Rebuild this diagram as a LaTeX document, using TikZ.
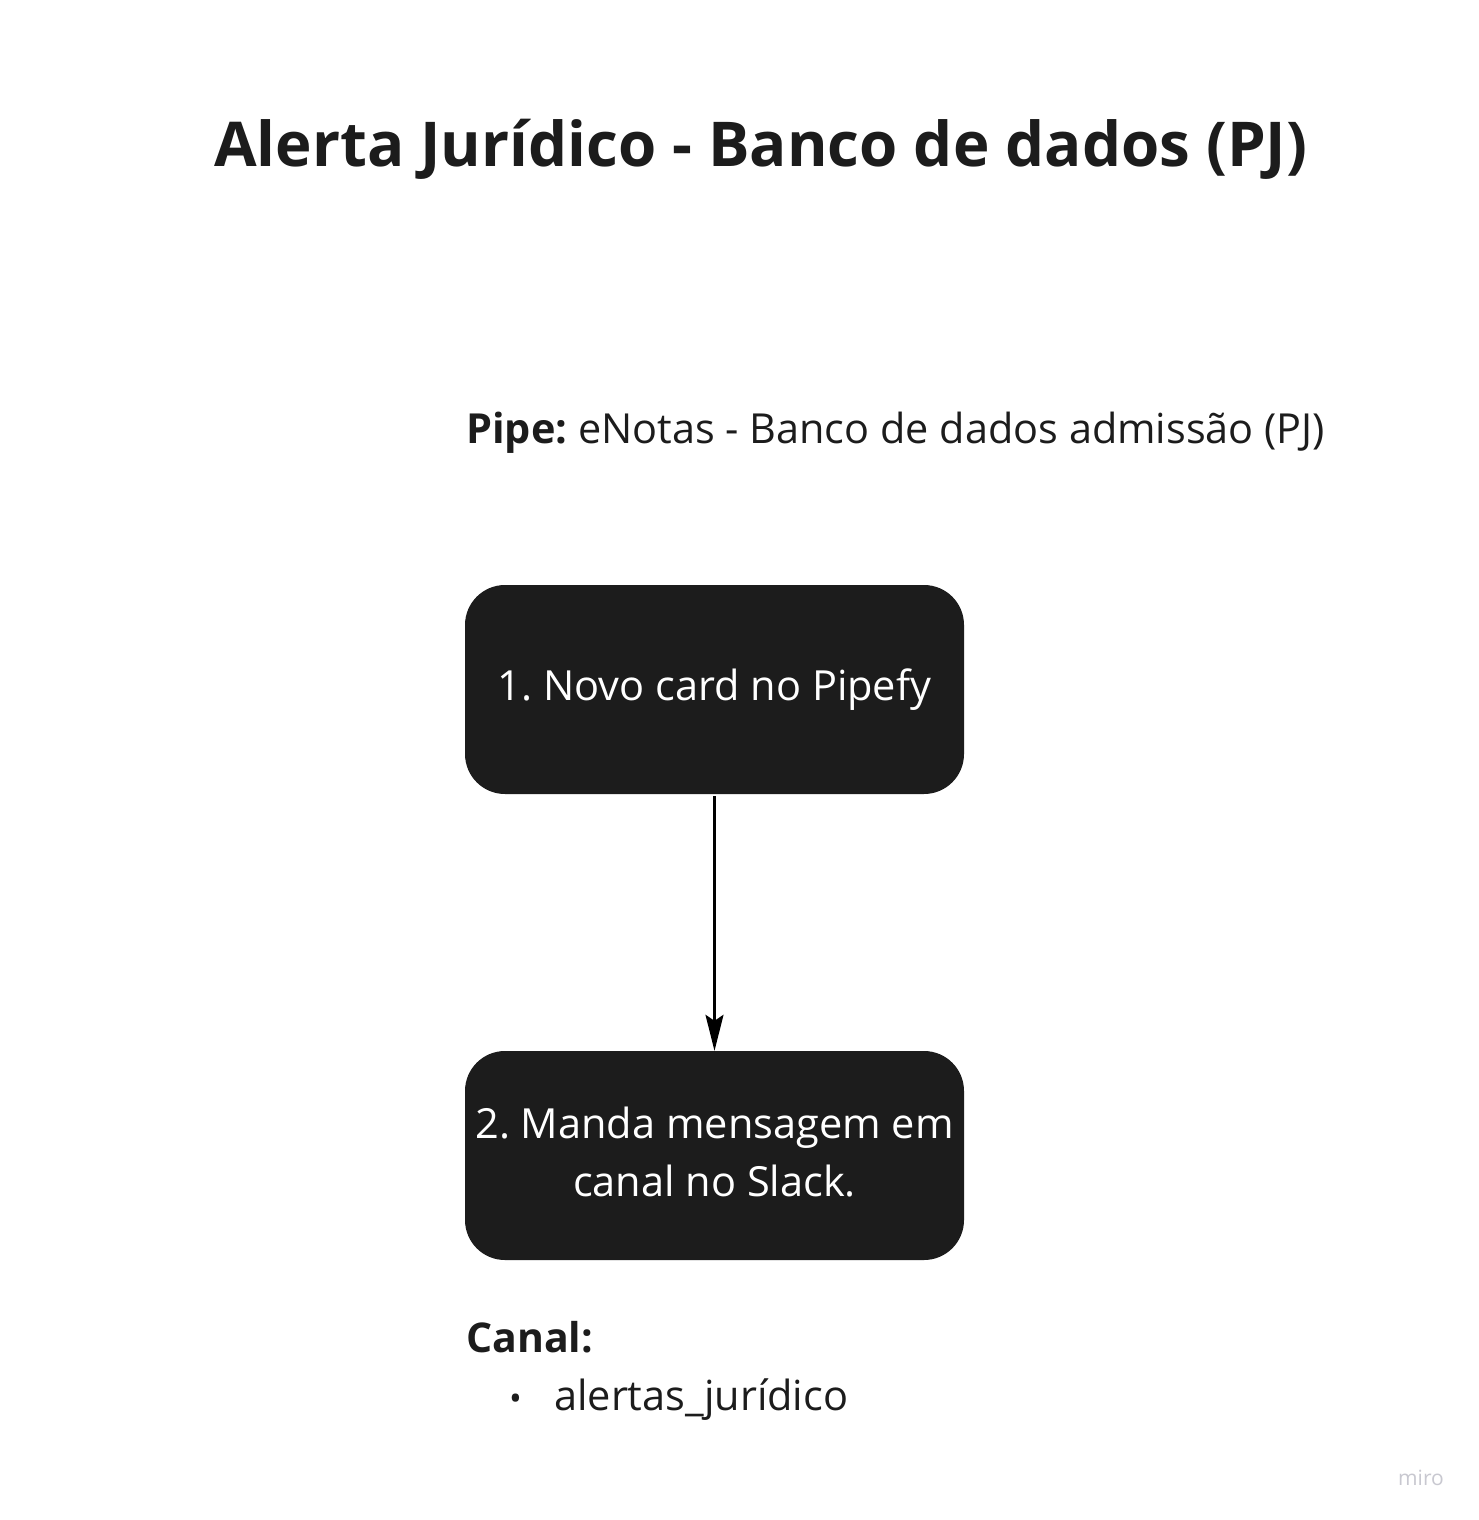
\documentclass[tikz,border=0pt]{standalone}
\usepackage{fontspec}
\setmainfont{Open Sans}
\usetikzlibrary{arrows.meta}
\definecolor{boxfill}{HTML}{1C1C1C}
\definecolor{ink}{HTML}{1C1C1C}
\definecolor{wm}{HTML}{C8C8D0}
\frenchspacing
\tikzset{
  stepbox/.style={draw=none, fill=boxfill, rounded corners=40pt, minimum width=499pt, minimum height=209pt, text=white, align=center, inner sep=0pt, font=\fontsize{41.5}{58}\selectfont},
  steptext/.style={text=white, align=center, inner sep=0pt, font=\fontsize{41.5}{58}\selectfont},
  txt/.style={anchor=base west, inner sep=0pt, text=ink},
  conn/.style={line width=2.2pt, draw=black, -{Stealth[length=36pt,width=18pt,inset=6pt]}}
}
\begin{document}
\begin{tikzpicture}[x=1pt,y=1pt]
\useasboundingbox (0,0) rectangle (1479,-1520);
\fill[white] (0,0) rectangle (1479,-1520);
\node[txt, font=\fontsize{61.8}{75}\selectfont\bfseries] (title) at (214,-166) {Alerta Jurídico - Banco de dados (PJ)};
\node[txt, font=\fontsize{41.4}{50}\selectfont] (pipe) at (466,-443) {\textbf{Pipe:} eNotas - Banco de dados admissão (PJ)};
\node[stepbox] (s1) at (714.5,-689.5) {1. Novo card no Pipefy};
\node[stepbox] (s2) at (714.5,-1155.5) {};
\node[steptext] (s2t) at (714.5,-1152.5) {2. Manda mensagem em\\canal no Slack.};
\draw[conn] (s1.south) ++(0,-2) coordinate (a) -- (s2.north);
\node[txt, font=\fontsize{41}{50}\selectfont\bfseries] (canal) at (466,-1352) {Canal:};
\node[txt, font=\fontsize{41}{50}\selectfont] (bul) at (509,-1410) {\fontsize{34}{34}\selectfont•};
\node[txt, font=\fontsize{41.5}{50}\selectfont] (item) at (554,-1410) {alertas\_jurídico};
\node[txt, text=wm, font=\fontsize{21}{25}\selectfont] (miro) at (1398,-1485) {miro};
\end{tikzpicture}
\end{document}
